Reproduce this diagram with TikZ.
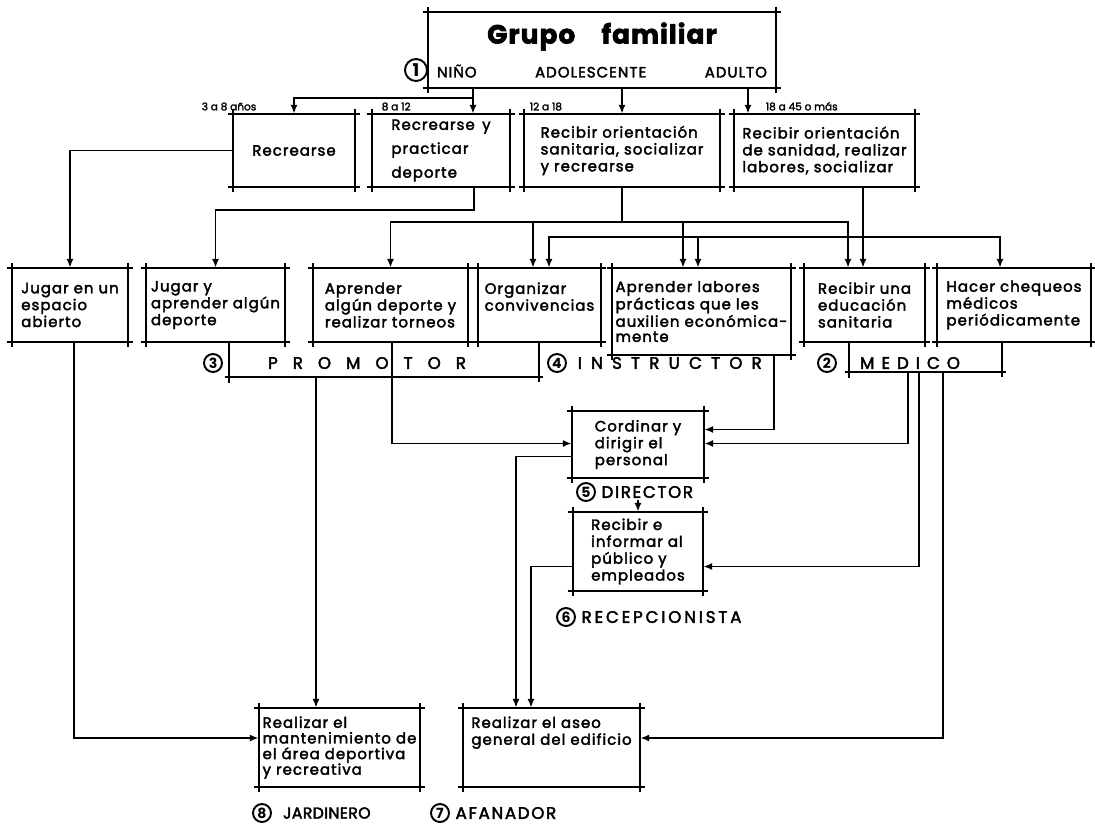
\documentclass[tikz,border=0pt]{standalone}
\usepackage{fontspec}
\setmainfont{Poppins}
\usetikzlibrary{arrows.meta,positioning,calc}
\tikzset{
    tbox/.style={
    rectangle,inner sep=0pt,align=left,
    font=\fontsize{8.5}{9.6}\selectfont\addfontfeature{LetterSpace=7,FakeBold=2.5}
    },
    wire/.style={
    line width=1pt
    },
    arr/.style={
    wire,-{Latex[length=5pt,width=4pt]}
    },
    num/.style={
    circle,draw=black,line width=1.1pt,inner sep=0pt,minimum size=0.36cm,
    font=\fontsize{8}{8}\selectfont\bfseries
    },
    role/.style={
    inner sep=1pt,font=\fontsize{9.5}{10}\selectfont\addfontfeature{LetterSpace=10,FakeBold=2.5}
    },
    age/.style={
    anchor=south west,inner sep=1pt,font=\fontsize{6}{6}\selectfont\addfontfeature{FakeBold=2}
    },
}
% marco con esquinas cruzadas
\newcommand{\cruz}[1]{%
  \draw[wire] ($(#1.north west)+(-5,0)$) -- ($(#1.north east)+(5,0)$)
    ($(#1.south west)+(-5,0)$) -- ($(#1.south east)+(5,0)$)
    ($(#1.north west)+(0,-5)$) -- ($(#1.south west)+(0,5)$)
    ($(#1.north east)+(0,-5)$) -- ($(#1.south east)+(0,5)$);}
% marco abierto arriba
\newcommand{\abierto}[1]{%
  \draw[wire] (#1.north west) -- ($(#1.south west)+(0,6)$)
    ($(#1.south west)+(-4,0)$) -- ($(#1.south east)+(4,0)$)
    (#1.north east) -- ($(#1.south east)+(0,5)$);}

\begin{document}
\begin{tikzpicture}[x=0.02cm,y=-0.02cm]
   \useasboundingbox (0,0) rectangle (1095,823);
   % grupo familiar
   \node[tbox,align=center,minimum width=6.96cm,minimum height=1.52cm] (grupo) at (602,50)
     {{\fontsize{15}{16}\selectfont\bfseries\addfontfeature{LetterSpace=4} Grupo\quad familiar}\\[7pt]
      \makebox[6.6cm]{NIÑO\hfill ADOLESCENTE\hfill ADULTO}};
   \node[num,minimum size=0.44cm,font=\fontsize{10}{10}\selectfont\bfseries] (n1) at (416,70) {1};

   % edades
   \node[tbox,align=center,minimum width=2.44cm,minimum height=1.46cm] (rec) at (294,150.5) {Recrearse};
   \node[tbox,minimum width=2.76cm,minimum height=1.46cm] (recdep) at (441,150.5) {Recrearse\enspace y\\[4pt]practicar\\[4pt]deporte};
   \node[tbox,minimum width=3.92cm,minimum height=1.46cm] (orisan) at (622,150.5) {Recibir orientación\\sanitaria, socializar\\y recrearse};
   \node[tbox,minimum width=3.62cm,minimum height=1.46cm] (orilab) at (824.5,150.5) {Recibir orientación\\de sanidad, realizar\\labores, socializar};
   \node[age] (e1) at ($(rec.north west)+(-33,-1)$) {3 a 8 años};
   \node[age] (e2) at ($(recdep.north west)+(8,-1)$) {8 a 12};
   \node[age] (e3) at ($(orisan.north west)+(4,-1)$) {12 a 18};
   \node[age] (e4) at ($(orilab.north west)+(30,-1)$) {18 a 45 o más};

   % actividades
   \node[tbox,minimum width=2.32cm,minimum height=1.48cm] (jugesp) at (70,305) {Jugar en un\\espacio\\abierto};
   \node[tbox,minimum width=2.78cm,minimum height=1.48cm] (jugdep) at (215.5,305) {Jugar y\\aprender algún\\deporte};
   \node[tbox,minimum width=3.10cm,minimum height=1.48cm] (aprdep) at (390.5,305) {Aprender\\algún deporte y\\realizar torneos};
   \node[tbox,minimum width=2.46cm,minimum height=1.48cm] (orgconv) at (539.5,305) {Organizar\\convivencias\\\mbox{}};
   \node[tbox,minimum width=3.58cm,minimum height=1.74cm,font=\fontsize{8.5}{8.6}\selectfont\addfontfeature{LetterSpace=7,FakeBold=2.5}] (aprlab) at (701.5,311.5) {Aprender labores\\prácticas que les\\auxilien económica-\\mente};
   \node[tbox,minimum width=2.42cm,minimum height=1.48cm] (recedu) at (864.5,305) {Recibir una\\educación\\sanitaria};
   \node[tbox,minimum width=3.06cm,minimum height=1.48cm] (chequeo) at (1014,305) {Hacer chequeos\\médicos\\periódicamente};

   % personal
   \node[tbox,minimum width=2.64cm,minimum height=1.34cm] (dir) at (638,444.5) {Cordinar y\\dirigir el\\personal};
   \node[tbox,minimum width=2.6cm,minimum height=1.58cm] (recep) at (638,551.5) {Recibir e\\informar al\\público y\\empleados};
   \node[tbox,minimum width=3.22cm,minimum height=1.58cm,font=\fontsize{8.5}{8.9}\selectfont\addfontfeature{LetterSpace=7,FakeBold=2.5}] (jard) at (339.5,747.5) {Realizar el\\mantenimiento de\\el área deportiva\\y recreativa};
   \node[tbox,minimum width=3.54cm,minimum height=1.58cm] (afan) at (551.5,747.5) {Realizar el aseo\\general del edificio\\\mbox{}\\\mbox{}};

   \foreach \b in {grupo,rec,recdep,orisan,orilab,jugesp,jugdep,aprdep,orgconv,aprlab,recedu,chequeo,dir,recep,jard,afan}
     {\cruz{\b}}

   % cargos
   \node[minimum width=6.2cm,minimum height=0.7cm,inner sep=0pt] (promo) at (384,359.5) {};
   \node[minimum width=3.06cm,minimum height=0.6cm,inner sep=0pt] (med) at (925.5,357) {};
   \abierto{promo}
   \abierto{med}
   \node[num] (n3) at (213,363) {3};
   \node[role,anchor=west] (promotor) at (266,363) {P\hspace{0.9em}R\hspace{0.9em}O\hspace{0.9em}M\hspace{0.9em}O\hspace{0.9em}T\hspace{0.9em}O\hspace{0.9em}R};
   \node[num] (n4) at (557,363) {4};
   \node[role,right=5pt of n4] (instr) {I\hspace{0.55em}N\hspace{0.55em}S\hspace{0.55em}T\hspace{0.55em}R\hspace{0.55em}U\hspace{0.55em}C\hspace{0.55em}T\hspace{0.55em}O\hspace{0.55em}R};
   \node[num] (n2) at (827,363) {2};
   \node[role,anchor=west] (medico) at (858,363) {M\hspace{0.42em}E\hspace{0.42em}D\hspace{0.42em}I\hspace{0.42em}C\hspace{0.42em}O};
   \node[num] (n5) at (586,492) {5};
   \node[role,right=2pt of n5] (dirlab) {DIRECTOR};
   \node[num] (n6) at (566,617) {6};
   \node[role,right=2pt of n6,font=\fontsize{9.5}{10}\selectfont\addfontfeature{LetterSpace=17,FakeBold=2.5}] (reclab) {RECEPCIONISTA};
   \node[num] (n8) at (262,813) {8};
   \node[role,anchor=west,font=\fontsize{9}{10}\selectfont\addfontfeature{LetterSpace=2,FakeBold=2.5}] (jardlab) at (281,813) {JARDINERO};
   \node[num] (n7) at (440,813) {7};
   \node[role,right=2pt of n7] (afanlab) {AFANADOR};

   % grupo a edades
   \draw[arr] (grupo.south -| 473,0) -- (recdep.north -| 473,0);
   \draw[arr] (grupo.south -| 473,0) ++(0,10) -| (rec.north);
   \draw[arr] (grupo.south -| orisan) -- (orisan.north);
   \draw[arr] (grupo.south -| 748,0) -- (orilab.north -| 748,0);

   % edades a actividades
   \draw[arr] (rec.west) -| (jugesp.north);
   \draw[arr] (recdep.south -| 474,0) -- ++(0,23) -| (jugdep.north);
   \draw[arr] (orisan.south) -- ++(0,35) coordinate (adol) -| (aprdep.north);
   \draw[arr] (adol) -| (recedu.north -| 848,0);
   \draw[arr] (adol -| 533,0) -- (orgconv.north -| 533,0);
   \draw[arr] (adol -| 683,0) -- (aprlab.north -| 683,0);
   \draw[arr] (orilab.south -| 863,0) -- (recedu.north -| 863,0);
   \coordinate (adul) at ($(orilab.south -| 863,0)+(0,50)$);
   \draw[arr] (adul) -| (orgconv.north -| 549,0);
   \draw[arr] (adul) -| (chequeo.north -| 1000,0);
   \draw[arr] (adul -| 698,0) -- (aprlab.north -| 698,0);

   % cargos a personal
   \draw[arr] (aprdep.south -| 392,0) |- ($(dir.west)+(0,-1)$);
   \draw[arr] (aprlab.south -| 774,0) |- ($(dir.east)+(0,-15)$);
   \draw[arr] (med.south -| 908,0) |- ($(dir.east)+(0,-1)$);
   \draw[arr] (med.south -| 919,0) |- ($(recep.east)+(0,15)$);
   \draw[arr] (med.south -| 943,0) |- ($(afan.east)+(0,-9.5)$);
   \draw[arr] (dirlab.south -| dir) -- (recep.north);
   \draw[arr] ($(dir.west)+(0,12)$) -| (afan.north -| 516,0);
   \draw[arr] ($(recep.west)+(0,15)$) -| (afan.north -| 531,0);
   \draw[arr] (jugesp.south -| 74,0) |- ($(jard.west)+(0,-9.5)$);
   \draw[arr] (promo.south -| 316,0) -- (jard.north -| 316,0);
\end{tikzpicture}
\end{document}
